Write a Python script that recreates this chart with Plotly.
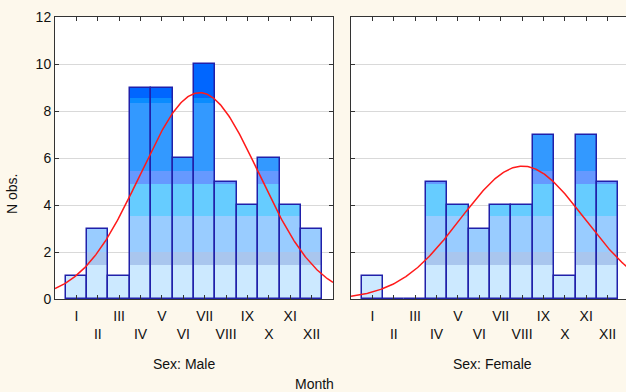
import numpy as np
import plotly.graph_objects as go

months = ["I", "II", "III", "IV", "V", "VI", "VII", "VIII", "IX", "X", "XI", "XII"]
male = [1, 3, 1, 9, 9, 6, 10, 5, 4, 6, 4, 3]
female = [1, 0, 0, 5, 4, 3, 4, 4, 7, 1, 7, 5]

# colour bands (value thresholds) used to shade bars
band_edges = [0, 1.45, 2.02, 3.52, 4.9, 5.45, 8.35, 8.55, 100]
band_colors = ["#cce9ff", "#a9c6ee", "#99ccff", "#66ccff", "#6699ff", "#3399ff", "#0a8cff", "#0066ff"]

OUTLINE = "#2020aa"
FONT = "Liberation Sans, Arial, sans-serif"
FS = 14

W, H = 626, 392
ML, MR, MT, MB = 55, 0, 17, 93
pw = W - ML - MR
ph = H - MT - MB

def px_x(p):
    return (p - ML) / pw

def px_y(p):
    return (H - MB - p) / ph

x = np.arange(1, 13)
fig = go.Figure()

def add_panel(vals, xa, ya):
    vals = np.array(vals, dtype=float)
    for lo, hi, col in zip(band_edges[:-1], band_edges[1:], band_colors):
        seg = np.clip(vals, lo, hi) - lo
        if not np.any(seg > 0):
            continue
        fig.add_trace(go.Bar(x=x, y=seg, base=[lo] * 12, width=1,
                             marker=dict(color=col, line=dict(width=0)),
                             xaxis=xa, yaxis=ya, showlegend=False, hoverinfo="skip"))
    fig.add_trace(go.Bar(x=x, y=vals, width=1,
                         marker=dict(color="rgba(0,0,0,0)", line=dict(color=OUTLINE, width=1.5)),
                         xaxis=xa, yaxis=ya, showlegend=False))
    n = vals.sum()
    mean = (x * vals).sum() / n
    var = ((x - mean) ** 2 * vals).sum() / (n - 1)
    sd = np.sqrt(var)
    gx = np.linspace(0, 13, 300)
    gy = n / (sd * np.sqrt(2 * np.pi)) * np.exp(-(gx - mean) ** 2 / (2 * var))
    fig.add_trace(go.Scatter(x=gx, y=gy, mode="lines", line=dict(color="#ff1a1a", width=1.5),
                             xaxis=xa, yaxis=ya, showlegend=False, hoverinfo="skip"))

add_panel(male, "x", "y")
add_panel(female, "x2", "y2")

ticktext = [m if i % 2 == 0 else "<br>" + m for i, m in enumerate(months)]

xcommon = dict(tickmode="array", tickvals=list(x), ticktext=ticktext, ticks="inside",
               ticklen=4, tickcolor="#333", showline=True, linecolor="#333", linewidth=1,
               showgrid=False, zeroline=False, ticklabelstandoff=4,
               tickfont=dict(family=FONT, size=FS, color="#111"))
ycommon = dict(range=[0, 12], dtick=2, ticks="inside", ticklen=4, tickcolor="#333",
               showline=True, linecolor="#333", linewidth=1, showgrid=True,
               gridcolor="#d9d9d9", gridwidth=1, zeroline=False,
               tickfont=dict(family=FONT, size=FS, color="#111"))

d1 = [0, px_x(333)]
d2 = [px_x(351), 1]
fig.update_layout(
    width=W, height=H,
    margin=dict(l=ML, r=MR, t=MT, b=MB),
    paper_bgcolor="#fdf8ec", plot_bgcolor="white",
    barmode="overlay", bargap=0,
    xaxis=dict(domain=d1, range=[0, 13], mirror="ticks", **xcommon),
    xaxis2=dict(domain=d2, range=[0, (626 - 351) / (278 / 13)], mirror="ticks", anchor="y2", **xcommon),
    yaxis=dict(domain=[0, 1], mirror="ticks", anchor="x", **ycommon),
    yaxis2=dict(domain=[0, 1], anchor="x2", showticklabels=False, mirror=False, **ycommon),
    font=dict(family=FONT, size=FS, color="#111"),
    annotations=[
        dict(text="N obs.", x=px_x(12), y=px_y(194), xref="paper", yref="paper",
             textangle=-90, showarrow=False, xanchor="center", yanchor="middle",
             font=dict(size=FS)),
        dict(text="Sex: Male", x=px_x(184), y=px_y(364), xref="paper", yref="paper",
             showarrow=False, xanchor="center", yanchor="middle", font=dict(size=FS)),
        dict(text="Sex: Female", x=px_x(492), y=px_y(364), xref="paper", yref="paper",
             showarrow=False, xanchor="center", yanchor="middle", font=dict(size=FS)),
        dict(text="Month", x=px_x(314), y=px_y(384), xref="paper", yref="paper",
             showarrow=False, xanchor="center", yanchor="middle", font=dict(size=FS)),
    ],
)

fig.write_html("out.html", config={"displayModeBar": False},
               post_script="document.body.style.margin='0';document.body.style.overflow='hidden';")
